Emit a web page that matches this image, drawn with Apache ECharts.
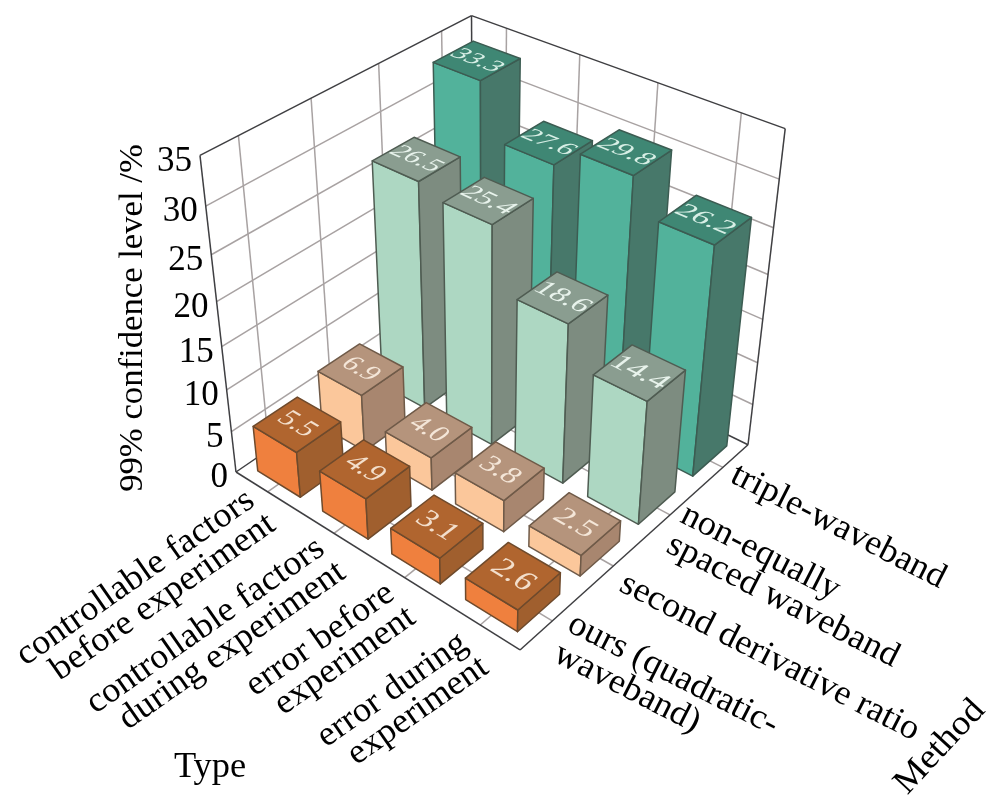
<!DOCTYPE html>
<html>
<head>
<meta charset="utf-8">
<style>html,body{margin:0;padding:0;background:#fff}#main{width:1000px;height:803px}</style>
<script src="https://cdn.jsdelivr.net/npm/echarts@6/dist/echarts.min.js"></script>
</head>
<body>
<div id="main"></div>
<script>
var typeNames = [
  ['controllable factors', 'before experiment'],
  ['controllable factors', 'during experiment'],
  ['error before', 'experiment'],
  ['error during', 'experiment']
];
// front row first, back row last
var methodNames = [
  ['ours (quadratic-', 'waveband)'],
  ['second derivative ratio'],
  ['non-equally', 'spaced waveband'],
  ['triple-waveband']
];
var oursValues = [5.5, 4.9, 3.1, 2.6];
var secondValues = [6.9, 4.0, 3.8, 2.5];
var nonEqualValues = [26.5, 25.4, 18.6, 14.4];
var tripleValues = [33.3, 27.6, 29.8, 26.2];
var zTicks = [0, 5, 10, 15, 20, 25, 30, 35];
var zMax = 35;

var rows = [oursValues, secondValues, nonEqualValues, tripleValues];
var frontColors = ['#ef803e', '#fbc79b', '#add7c2', '#52b29b'];
var sideColors = ['#a05f2e', '#a8866f', '#7d8c80', '#47786a'];
var topColors = ['#b0652f', '#b5947c', '#8a9d90', '#3f8774'];
var edgeColors = ['#6e4a2c', '#6f5a48', '#4f5c52', '#3c5c52'];
var textColors = ['#f3dfcc', '#f4e6d8', '#e8f3ec', '#d8efe6'];

var serif = '"Liberation Serif", serif';
var barHalf = 0.083;

// perspective of the box: u runs along the Type edge, v along the Method edge, w up
function project(u, v, w) {
  var d = 1 - 0.1227 * u + 0.135 * v - 0.1259 * w;
  return [
    (236 + 220.2 * u + 301 * v - 61.2 * w) / d,
    (472 + 98.2 * u - 120 * v - 336.2 * w) / d
  ];
}
function cellCenter(i) { return (i + 0.5) / 4; }

// grid lines on walls and floor
var gridLines = [];
zTicks.slice(1, -1).forEach(function (t) {
  var w = t / zMax;
  gridLines.push([0, 0, w, 0, 1, w]);
  gridLines.push([0, 1, w, 1, 1, w]);
});
for (var k = 0; k < 4; k++) {
  var c = cellCenter(k);
  gridLines.push([0, c, 0, 0, c, 1]);
  gridLines.push([c, 1, 0, c, 1, 1]);
  gridLines.push([c, 0, 0, c, 1, 0]);
  gridLines.push([0, c, 0, 1, c, 0]);
}
var frameLines = [
  [0, 0, 1, 0, 1, 1], [0, 1, 1, 1, 1, 1],
  [0, 0, 0, 0, 0, 1], [0, 1, 0, 0, 1, 1], [1, 1, 0, 1, 1, 1],
  [0, 0, 0, 1, 0, 0], [1, 0, 0, 1, 1, 0],
  [0, 0, 0, 0, 1, 0], [0, 1, 0, 1, 1, 0]
];

// back rows first so nearer bars paint over them
var barData = [];
for (var j = 3; j >= 0; j--) {
  for (var i = 0; i < 4; i++) barData.push([i, j, rows[j][i]]);
}

function lineSeries(data, color, width, z) {
  return {
    type: 'custom',
    coordinateSystem: 'none',
    silent: true,
    z: z,
    data: data,
    renderItem: function (params, api) {
      var a = project(api.value(0), api.value(1), api.value(2));
      var b = project(api.value(3), api.value(4), api.value(5));
      return {
        type: 'line',
        shape: { x1: a[0], y1: a[1], x2: b[0], y2: b[1] },
        style: { stroke: color, lineWidth: width, fill: null }
      };
    }
  };
}

// text lying in the top face: shear is split into rotate / scale / rotate
function topLabel(text, color, left, top, right, bottom) {
  var L = 40;
  var cx = (left[0] + right[0]) / 2, cy = (left[1] + right[1]) / 2;
  var a = (bottom[0] - left[0]) / L, b = (bottom[1] - left[1]) / L;
  var c = (left[0] - top[0]) / L, d = (left[1] - top[1]) / L;
  var E = (a + d) / 2, F = (a - d) / 2, G = (b + c) / 2, H = (b - c) / 2;
  var Q = Math.sqrt(E * E + H * H), R = Math.sqrt(F * F + G * G);
  var a1 = Math.atan2(G, F), a2 = Math.atan2(H, E);
  return {
    type: 'group',
    x: cx, y: cy,
    rotation: -(a2 + a1) / 2,
    scaleX: Q + R, scaleY: Q - R,
    children: [{
      type: 'text',
      rotation: -(a2 - a1) / 2,
      style: {
        text: text, x: 0, y: 0,
        fontSize: 22, fontFamily: serif, fill: color,
        align: 'center', verticalAlign: 'middle'
      }
    }]
  };
}

function renderBar(params, api) {
  var i = api.value(0), j = api.value(1), val = api.value(2);
  var u0 = cellCenter(i) - barHalf, u1 = cellCenter(i) + barHalf;
  var v0 = cellCenter(j) - barHalf, v1 = cellCenter(j) + barHalf;
  var w = val / zMax;
  var left = project(u0, v0, w), top = project(u0, v1, w);
  var right = project(u1, v1, w), bottom = project(u1, v0, w);
  var leftB = project(u0, v0, 0), rightB = project(u1, v1, 0), bottomB = project(u1, v0, 0);
  function face(pts, fill) {
    return {
      type: 'polygon',
      shape: { points: pts },
      style: { fill: fill, stroke: edgeColors[j], lineWidth: 1.5, lineJoin: 'round' }
    };
  }
  return {
    type: 'group',
    children: [
      face([left, bottom, bottomB, leftB], frontColors[j]),
      face([bottom, right, rightB, bottomB], sideColors[j]),
      face([left, top, right, bottom], topColors[j]),
      topLabel(val.toFixed(1), textColors[j], left, top, right, bottom)
    ]
  };
}

function label(text, x, y, rotDeg, size, align, sx) {
  return {
    type: 'text',
    x: x, y: y,
    rotation: rotDeg * Math.PI / 180,
    scaleX: sx || 1,
    style: {
      text: text, fontSize: size, fontFamily: serif, fill: '#000',
      align: align, verticalAlign: 'middle'
    }
  };
}

var graphics = [];
zTicks.forEach(function (t) {
  var p = project(0, 0, t / zMax);
  graphics.push(label(String(t), p[0] - 8, p[1] + 6, 0, 35, 'right', 1));
});
graphics.push(label('99% confidence level /%', 133, 318, 90, 34, 'center', 1.02));
graphics.push(label('Type', 210, 768, 0, 35, 'center', 1.04));
graphics.push(label('Method', 940, 747, 47, 35, 'center', 1.06));

// right end of each Type label, first line; second line steps down-right
var typeEnds = [[251, 497], [321, 545], [391, 590], [464, 640]];
typeNames.forEach(function (lines, n) {
  lines.forEach(function (s, m) {
    graphics.push(label(s, typeEnds[n][0] + m * 21, typeEnds[n][1] + m * 24, 35, 35, 'right', 1.04));
  });
});
// left start of each Method label, first line; second line steps down-left
var methodStarts = [[570, 622], [622, 582], [683, 513], [733, 473]];
methodNames.forEach(function (lines, n) {
  lines.forEach(function (s, m) {
    graphics.push(label(s, methodStarts[n][0] - m * 14, methodStarts[n][1] + m * 30, -27, 35, 'left', 1.04));
  });
});

var chart = echarts.init(document.getElementById('main'), null, { renderer: 'canvas' });
chart.setOption({
  animation: false,
  backgroundColor: '#fff',
  graphic: { elements: graphics },
  series: [
    lineSeries(gridLines, '#a8a2a2', 1.5, 1),
    lineSeries(frameLines, '#3f3f42', 1.5, 2),
    {
      type: 'custom',
      coordinateSystem: 'none',
      silent: true,
      z: 3,
      data: barData,
      renderItem: renderBar
    }
  ]
});
</script>
</body>
</html>
